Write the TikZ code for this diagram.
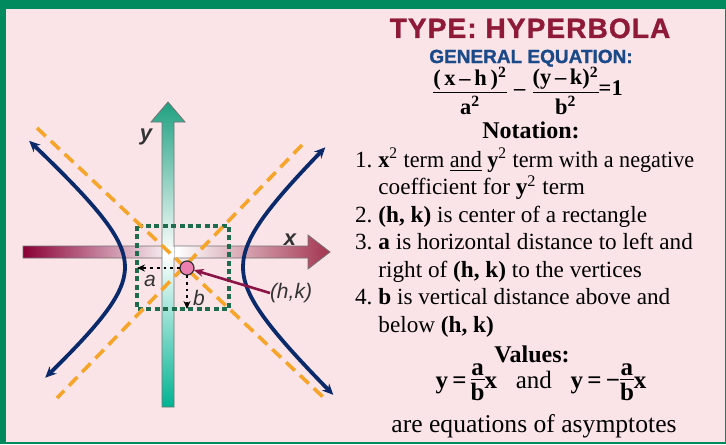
\documentclass[tikz,border=0pt]{standalone}
\usepackage{fontspec}
\usepackage{amsmath}
\usepackage{graphicx}
\usetikzlibrary{positioning,arrows.meta}
\setmainfont{Liberation Serif}
\setsansfont{Liberation Sans}
\newfontfamily\heavysans[FakeBold=1.2]{Liberation Sans Bold}
\definecolor{pagegreen}{RGB}{0,138,94}
\definecolor{pinkbg}{RGB}{250,228,231}
\definecolor{titlered}{RGB}{142,26,56}
\definecolor{eqblue}{RGB}{26,74,138}
\definecolor{navy}{RGB}{10,42,107}
\definecolor{asyorange}{RGB}{246,165,42}
\definecolor{boxgreen}{RGB}{30,107,78}
\definecolor{hkpink}{RGB}{236,127,175}
\definecolor{hkarrow}{RGB}{139,20,70}
\definecolor{ytop}{RGB}{31,160,128}
\definecolor{ybottom}{RGB}{0,179,146}
\definecolor{xleft}{RGB}{138,0,53}
\definecolor{xright}{RGB}{163,51,79}
% compact fraction: numerator, bar, denominator
\newcommand{\tightfrac}[3][1.5pt]{%
  \vcenter{\hbox{%
    \setbox0=\hbox{#2}\setbox2=\hbox{#3}%
    \ifdim\wd0>\wd2 \dimen0=\wd0 \else \dimen0=\wd2 \fi
    \vbox{\offinterlineskip
      \hbox to\dimen0{\hss\box0\hss}\kern#1
      \hrule height 0.6pt\kern#1
      \hbox to\dimen0{\hss\box2\hss}}}}}

\begin{document}
\begin{tikzpicture}[x=0.5pt, y=-0.5pt,
    every node/.style={inner sep=0pt, outer sep=0pt},
    heading/.style={font=\heavysans\addfontfeature{LetterSpace=4}\fontsize{14}{16}\selectfont, text=titlered, anchor=base},
    subheading/.style={font=\heavysans\fontsize{9.5}{12}\selectfont, text=eqblue, anchor=base},
    bodytext/.style={font=\fontsize{11.6}{13.75}\selectfont, anchor=base},
    asym/.style={draw=asyorange, line width=1.8pt, dash pattern=on 6pt off 3.5pt},
    boxdash/.style={draw=boxgreen, line width=1.6pt, dash pattern=on 2.5pt off 1.7pt},
    branch/.style={draw=navy, line width=1.9pt, {Stealth[length=5.5pt,width=5pt]}-{Stealth[length=5.5pt,width=5pt]}},
    dotarrow/.style={dotted, line width=1.4pt, -{Stealth[length=4pt,width=3.5pt]}},
    axislabel/.style={font=\sffamily\bfseries\itshape\fontsize{11}{13}\selectfont, text=black!80},
    ptlabel/.style={font=\sffamily\itshape\fontsize{10.5}{12}\selectfont, text=black!80}]
    \useasboundingbox (0,0) rectangle (726,444);
    \fill[pagegreen] (0,0) rectangle (726,444);
    \fill[pinkbg] (6,9) rectangle (725,442);

    % axes
    \shade[left color=xleft, right color=xright, middle color=white, draw=black!55, line width=0.4pt]
        (23,246) -- (308,246) -- (308,235) -- (330,252) -- (308,269) -- (308,258) -- (23,258) -- cycle;
    \shade[top color=ytop, bottom color=ybottom, middle color=white, draw=black!55, line width=0.4pt]
        (162,407) -- (162,122) -- (151,122) -- (168,102) -- (185,122) -- (174,122) -- (174,407) -- cycle;
    \fill[white] (162.5,246.5) rectangle (173.5,257.5);
    \node[axislabel] (ylabel) at (146,137) {y};
    \node[axislabel] (xlabel) at (290,240) {x};

    % box and asymptotes
    \draw[boxdash] (137,226) rectangle (229,309);
    \draw[asym] (37,128) -- (323,397);
    \draw[asym] (302,145) -- (57,398);

    % branches
    \draw[branch] plot[domain=-1.5:1.62, variable=\t, samples=40, smooth] ({184-59*cosh(\t)}, {267-52*sinh(\t)});
    \draw[branch] plot[domain=1.52:-1.58, variable=\t, samples=40, smooth] ({184+59*cosh(\t)}, {267-55*sinh(\t)});

    % center
    \node[circle, draw=black!80, line width=0.6pt, fill=hkpink, minimum size=7pt] (hk) at (187,268) {};
    \coordinate (aend) at (137,268);
    \coordinate (bend) at (187,309);
    \draw[dotarrow] (hk.west) -- (aend);
    \draw[dotarrow] (hk.south) -- (bend);
    \node[ptlabel] (alabel) at (150,281) {a};
    \node[ptlabel] (blabel) at (199,298) {b};
    \node[ptlabel] (hklabel) at (291,293) {(h,k)};
    \draw[hkarrow, line width=1.3pt, -{Stealth[length=5pt,width=4pt]}] (hklabel.west) -- (hk);

    % text column
    \node[heading] (title) at (530,38) {TYPE: HYPERBOLA};
    \node[subheading] (subtitle) at (531,63) {GENERAL EQUATION:};
    \node[font=\bfseries\fontsize{11.2}{13}\selectfont, anchor=base] (equation) at (528,96)
        {$\tightfrac[1.2pt]{(\,x\,–\,h\,)\textsuperscript{2}}{a\textsuperscript{2}}\mskip6mu\text{–}\mskip6mu\tightfrac[1.2pt]{(y\,–\,k)\textsuperscript{2}}{b\textsuperscript{2}}\textbf{=1}$};
    \node[bodytext, font=\bfseries\fontsize{12}{14}\selectfont] (notation) at (531,138) {Notation:};
    \node[bodytext, anchor=base west] (items) at (355,167) {%
        \begin{tabular}[t]{@{}l@{\hspace{3pt}}l@{}}
        1. & \scalebox{0.955}[1]{\textbf{x}\textsuperscript{2} term \underline{and} \textbf{y}\textsuperscript{2} term with a negative}\\
           & coefficient for \textbf{y}\textsuperscript{2} term\\
        2. & \textbf{(h, k)} is center of a rectangle\\
        3. & \textbf{a} is horizontal distance to left and\\
           & right of \textbf{(h, k)} to the vertices\\
        4. & \textbf{b} is vertical distance above and\\
           & below \textbf{(h, k)}
        \end{tabular}};
    \node[bodytext, font=\bfseries\fontsize{12}{14}\selectfont] (values) at (532,362) {Values:};
    \node[font=\bfseries\fontsize{12.5}{14}\selectfont, anchor=base] (valueseq) at (541,388)
        {$\textbf{y\,=\,}\tightfrac[1.6pt]{a}{b}\textbf{x}\ \ \ \textmd{and}\ \ \ \textbf{y\,=\,−}\tightfrac[1.6pt]{a}{b}\textbf{x}$};
    \node[bodytext, font=\fontsize{12.8}{15}\selectfont] (asymtext) at (534,432) {are equations of asymptotes};
\end{tikzpicture}
\end{document}
